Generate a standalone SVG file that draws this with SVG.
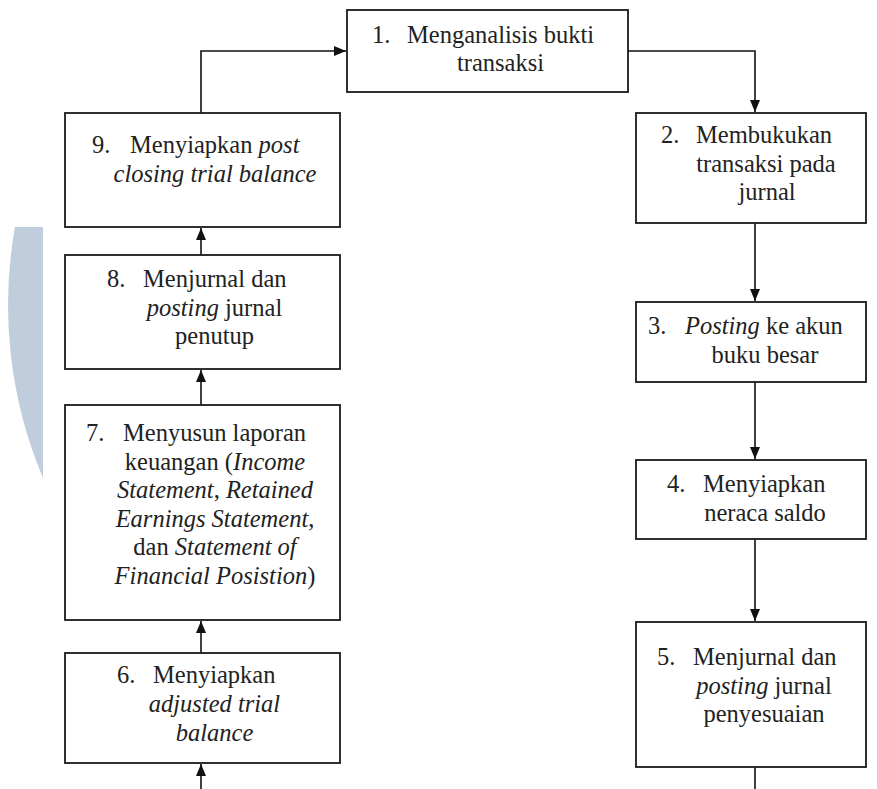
<svg xmlns="http://www.w3.org/2000/svg" width="877" height="789" viewBox="0 0 877 789">
<style>
.box{fill:#fff;stroke:#1a1a1a;stroke-width:1.8}
.t{font-family:"Liberation Serif","Times New Roman",serif;font-size:24.5px;fill:#222}
.c{text-anchor:middle}
.i{font-style:italic}
.conn{fill:none;stroke:#111;stroke-width:1.6}
</style>
<defs>
<marker id="ah" markerUnits="userSpaceOnUse" markerWidth="12" markerHeight="10" refX="12" refY="5" orient="auto">
<path d="M0,0 L12,5 L0,10 z" fill="#111"/>
</marker>
</defs>
<rect width="877" height="789" fill="#fff"/>
<path id="watermark" d="M15,227 A444,444 0 0 0 43,478 L43,227 Z" fill="#bfcddc"/>

<g id="connectors">
<path class="conn" d="M201,113 V51 H346" marker-end="url(#ah)"/>
<path class="conn" d="M628,51 H755 V112" marker-end="url(#ah)"/>
<path class="conn" d="M755,223 V301" marker-end="url(#ah)"/>
<path class="conn" d="M755,382 V459" marker-end="url(#ah)"/>
<path class="conn" d="M755,539 V621" marker-end="url(#ah)"/>
<path class="conn" d="M755,767 V789"/>
<path class="conn" d="M201,789 V764" marker-end="url(#ah)"/>
<path class="conn" d="M201,653 V621" marker-end="url(#ah)"/>
<path class="conn" d="M201,405 V370" marker-end="url(#ah)"/>
<path class="conn" d="M201,255 V228" marker-end="url(#ah)"/>
</g>

<g id="n1">
<rect class="box" x="347" y="10" width="281" height="82"/>
<text class="t" x="372" y="43">1.</text>
<text class="t" x="407" y="43">Menganalisis bukti</text>
<text class="t c" x="500.5" y="71">transaksi</text>
</g>

<g id="n2">
<rect class="box" x="636" y="113" width="230" height="110"/>
<text class="t" x="661" y="143">2.</text>
<text class="t" x="696" y="143">Membukukan</text>
<text class="t c" x="766" y="171.5">transaksi pada</text>
<text class="t c" x="767" y="200">jurnal</text>
</g>

<g id="n3">
<rect class="box" x="636" y="302" width="230" height="80"/>
<text class="t" x="648" y="334">3.</text>
<text class="t" x="685" y="334"><tspan class="i">Posting</tspan> ke akun</text>
<text class="t c" x="765" y="362.5">buku besar</text>
</g>

<g id="n4">
<rect class="box" x="636" y="460" width="230" height="79"/>
<text class="t" x="667" y="492">4.</text>
<text class="t" x="703" y="492">Menyiapkan</text>
<text class="t c" x="765" y="520.5">neraca saldo</text>
</g>

<g id="n5">
<rect class="box" x="636" y="622" width="230" height="145"/>
<text class="t" x="657" y="665">5.</text>
<text class="t" x="693" y="665">Menjurnal dan</text>
<text class="t c" x="764" y="693.5"><tspan class="i">posting</tspan> jurnal</text>
<text class="t c" x="764" y="722">penyesuaian</text>
</g>

<g id="n6">
<rect class="box" x="65" y="653" width="275" height="110"/>
<text class="t" x="117" y="683">6.</text>
<text class="t" x="153" y="683">Menyiapkan</text>
<text class="t c i" x="214.5" y="712">adjusted trial</text>
<text class="t c i" x="214.5" y="741">balance</text>
</g>

<g id="n7">
<rect class="box" x="65" y="405" width="275" height="215"/>
<text class="t" x="86" y="441">7.</text>
<text class="t" x="123" y="441">Menyusun laporan</text>
<text class="t c" x="215" y="469.6">keuangan (<tspan class="i">Income</tspan></text>
<text class="t c" x="215" y="498.2"><tspan class="i">Statement</tspan>, <tspan class="i">Retained</tspan></text>
<text class="t c" x="215" y="526.8"><tspan class="i">Earnings Statement</tspan>,</text>
<text class="t c" x="215" y="555.4">dan <tspan class="i">Statement of</tspan></text>
<text class="t c" x="215" y="584"><tspan class="i">Financial Posistion</tspan>)</text>
</g>

<g id="n8">
<rect class="box" x="65" y="255" width="275" height="114"/>
<text class="t" x="107" y="287">8.</text>
<text class="t" x="143" y="287">Menjurnal dan</text>
<text class="t c" x="214.5" y="315.5"><tspan class="i">posting</tspan> jurnal</text>
<text class="t c" x="214.5" y="344">penutup</text>
</g>

<g id="n9">
<rect class="box" x="65" y="113" width="275" height="114"/>
<text class="t" x="92" y="153">9.</text>
<text class="t" x="130" y="153">Menyiapkan <tspan class="i">post</tspan></text>
<text class="t c i" x="215" y="182">closing trial balance</text>
</g>
</svg>
